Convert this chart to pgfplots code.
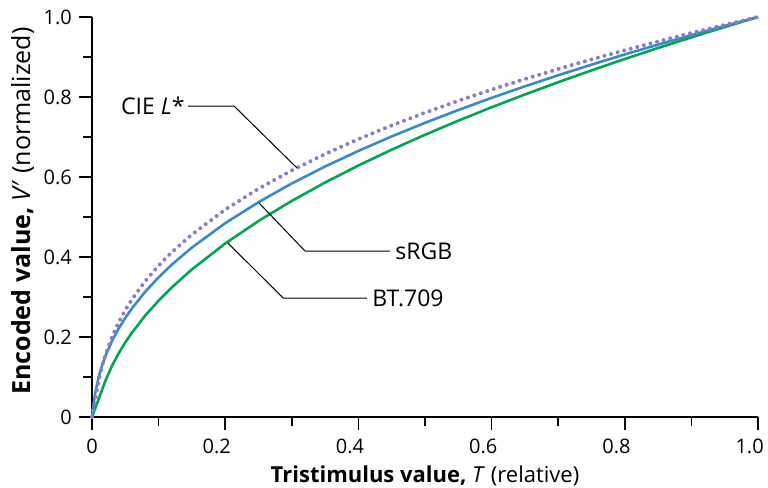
\documentclass[border=0pt]{standalone}
\usepackage{pgfplots}
\pgfplotsset{compat=1.18}
\usepackage{fontspec}
\setmainfont{Open Sans}
\definecolor{cielc}{RGB}{140,124,194}
\definecolor{srgbc}{RGB}{58,137,201}
\definecolor{btc}{RGB}{0,166,81}
\pgfplotstableread{
x y
0 0
0.002 0.01807
0.005 0.04517
0.008856 0.08
0.01 0.0899
0.015 0.1261
0.02 0.1549
0.03 0.2004
0.04 0.2367
0.05 0.2673
0.06 0.2941
0.08 0.3398
0.1 0.3784
0.12 0.4122
0.15 0.4563
0.2 0.5184
0.25 0.5708
0.3 0.6165
0.35 0.6575
0.4 0.6947
0.45 0.7289
0.5 0.7607
0.55 0.7905
0.6 0.8184
0.65 0.8448
0.7 0.8700
0.75 0.8939
0.8 0.9169
0.85 0.9388
0.9 0.9600
0.95 0.9803
1 1
}\cietable
\pgfplotstableread{
x y
0 0
0.0031308 0.04045
0.005 0.0610
0.01 0.0999
0.015 0.1284
0.02 0.1517
0.03 0.1898
0.04 0.2210
0.05 0.2478
0.06 0.2717
0.08 0.3133
0.1 0.3492
0.12 0.3811
0.15 0.4236
0.2 0.4845
0.25 0.5371
0.3 0.5838
0.35 0.6262
0.4 0.6652
0.45 0.7014
0.5 0.7354
0.55 0.7674
0.6 0.7978
0.65 0.8267
0.7 0.8543
0.75 0.8808
0.8 0.9064
0.85 0.9309
0.9 0.9547
0.95 0.9777
1 1
}\srgbtable
\pgfplotstableread{
x y
0 0
0.005 0.0225
0.01 0.045
0.015 0.0675
0.018 0.081
0.02 0.0900
0.03 0.1279
0.04 0.1592
0.05 0.1865
0.06 0.2109
0.08 0.2537
0.1 0.2909
0.12 0.3243
0.15 0.3690
0.2 0.4337
0.25 0.4900
0.3 0.5403
0.35 0.5862
0.4 0.6287
0.45 0.6683
0.5 0.7055
0.55 0.7408
0.6 0.7743
0.65 0.8063
0.7 0.8370
0.75 0.8665
0.8 0.8950
0.85 0.9225
0.9 0.9491
0.95 0.9749
1 1
}\bttable
\begin{document}
\begin{tikzpicture}
\begin{axis}[
  scale only axis,
  width=333pt, height=200pt,
  xmin=0, xmax=1, ymin=0, ymax=1,
  axis lines=left,
  axis line style={-, line width=0.9pt},
  clip=false,
  xtick={0,0.2,0.4,0.6,0.8,1.0},
  ytick={0,0.2,0.4,0.6,0.8,1.0},
  xticklabels={0,\llap{0.}2,\llap{0.}4,\llap{0.}6,\llap{0.}8,\llap{1.}0},
  yticklabels={0,0.2,0.4,0.6,0.8,1.0},
  minor xtick={0.1,0.3,0.5,0.7,0.9},
  minor ytick={0.1,0.3,0.5,0.7,0.9},
  tick align=outside,
  major tick length=6.5pt,
  minor tick length=4.5pt,
  every tick/.style={black, line width=0.8pt},
  tick label style={font=\fontsize{10}{12}\selectfont},
  xticklabel style={yshift=-1pt},
  xlabel={\textbf{Tristimulus value,} \textit{T} (relative)},
  ylabel={\textbf{Encoded value,} \textit{V′} (normalized)},
  xlabel style={font=\fontsize{11}{13}\selectfont, yshift=1pt},
  ylabel style={font=\fontsize{12.5}{14}\selectfont, yshift=-2pt, xshift=3pt},
]
\addplot[btc, line width=1.3pt] table {\bttable};
\addplot[srgbc, line width=1.3pt] table {\srgbtable};
\addplot[cielc, line width=2pt, line cap=round, dash pattern=on 0pt off 3.4pt] table {\cietable};
\draw[black, line width=0.5pt] (axis cs:0.144,0.7775) -- (axis cs:0.2132,0.7775) -- (axis cs:0.3078,0.6225);
\node[anchor=east, font=\fontsize{11.5}{13}\selectfont, inner sep=1.5pt] at (axis cs:0.144,0.7775) {CIE \textit{L}*};
\draw[black, line width=0.5pt] (axis cs:0.2508,0.535) -- (axis cs:0.3198,0.415) -- (axis cs:0.4474,0.415);
\node[anchor=west, font=\fontsize{11.5}{13}\selectfont, inner sep=2.5pt] at (axis cs:0.4474,0.415) {sRGB};
\draw[black, line width=0.5pt] (axis cs:0.204,0.435) -- (axis cs:0.287,0.2975) -- (axis cs:0.413,0.2975);
\node[anchor=west, font=\fontsize{11.5}{13}\selectfont, inner sep=2.5pt] at (axis cs:0.413,0.2975) {BT.709};
\end{axis}
\pgfresetboundingbox
\path[use as bounding box] (-46pt,-35.5pt) rectangle (338pt,208.5pt);
\end{tikzpicture}
\end{document}
